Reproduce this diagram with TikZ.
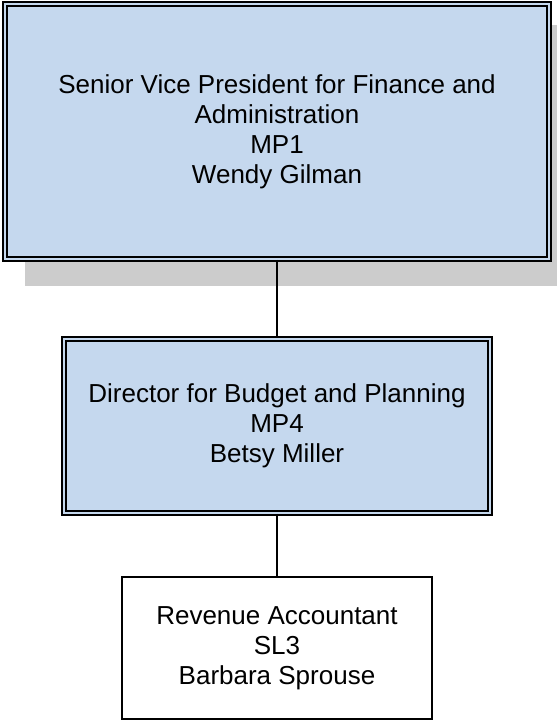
\documentclass[tikz,border=0pt]{standalone}
\usepackage{fontspec}
\setmainfont{Liberation Sans}
\usepackage{tikz}
\usetikzlibrary{calc}

\definecolor{boxblue}{RGB}{197,216,238}
\definecolor{shadowgray}{RGB}{204,204,204}

\tikzset{
  bluebox/.style={draw=black,fill=boxblue,double=boxblue,double distance=2.5pt,
                  line width=1.6pt,align=center,inner sep=0pt,
                  font=\fontsize{26}{30}\selectfont},
  whitebox/.style={draw=black,fill=white,line width=1.8pt,align=center,inner sep=0pt,
                   font=\fontsize{26}{30}\selectfont},
  link/.style={line width=1.8pt}
}

\begin{document}
\begin{tikzpicture}[x=1pt,y=-1pt]

\useasboundingbox (0,0) rectangle (557,721);
\clip (0,0) rectangle (557,721);

\fill[shadowgray] (25,25) rectangle (580,286);

\node[bluebox,minimum width=544pt,minimum height=255pt] (svp) at (277,131.5)
     {Senior Vice President for Finance and\\Administration\\MP1\\Wendy Gilman};

\node[bluebox,minimum width=426pt,minimum height=174pt] (dir) at (277,426)
     {Director for Budget and Planning\\MP4\\Betsy Miller};

\node[whitebox,minimum width=310pt,minimum height=142pt] (acct) at (277,648)
     {Revenue Accountant\\SL3\\Barbara Sprouse};

\draw[link] (svp) -- (dir);
\draw[link] (dir) -- (acct);

\end{tikzpicture}
\end{document}
